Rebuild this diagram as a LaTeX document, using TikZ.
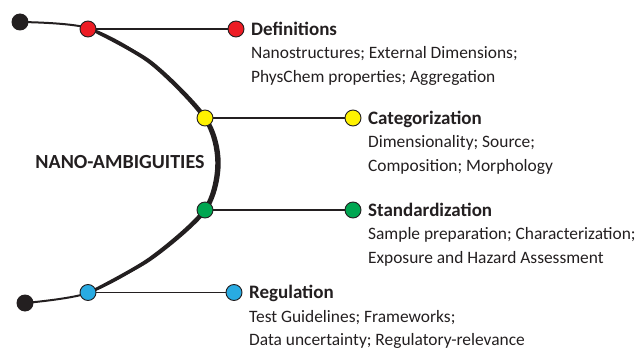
\documentclass[tikz,border=0pt]{standalone}
\usepackage{fontspec}
\setmainfont{Carlito}
\usetikzlibrary{positioning}
\definecolor{ink}{HTML}{231F20}
\definecolor{defred}{HTML}{ED1C24}
\definecolor{catyellow}{HTML}{FFF200}
\definecolor{stdgreen}{HTML}{00A651}
\definecolor{regblue}{HTML}{29ABE2}
\tikzset{
	dot/.style={circle, draw=ink, line width=0.9pt, minimum size=16pt, inner sep=0pt},
	enddot/.style={circle, fill=ink, minimum size=17pt, inner sep=0pt},
	branch/.style={draw=ink, line width=1.8pt},
	heading/.style={anchor=base west, inner sep=0pt, text=ink, font=\fontsize{19}{22}\selectfont\bfseries},
	detail/.style={inner sep=0pt, text=ink, font=\fontsize{17.4}{20}\selectfont},
}
\newcommand{\Branch}[8]{
	\node[dot, fill=#2] (#1a) at (#3,#5) {};
	\node[dot, fill=#2] (#1b) at (#4,#5) {};
	\draw[branch] (#1a) -- (#1b);
	\node[heading, xshift=6.5pt, yshift=-6.2pt] (#1t) at (#1b.east) {#6};
	\node[detail, below=23.6pt of #1t.base west, anchor=base west] (#1x) {#7};
	\node[detail, below=23.6pt of #1x.base west, anchor=base west] (#1y) {#8};
}

\begin{document}
\begin{tikzpicture}[x=1pt, y=-1pt]
		\useasboundingbox (0,0) rectangle (643,350);
		\draw[ink, line width=2pt] plot[smooth] coordinates {(20,22) (88,28) (150,62) (205,118) (218,163) (205,210) (150,259) (88,293) (25,303)};
		\fill[ink] plot[smooth] coordinates {(88.4,26.8) (151.2,60.4) (207.3,117.1) (220.7,163) (207.3,210.9) (151.2,260.6) (88.2,294.2)}
			-- plot[smooth] coordinates {(87.8,291.8) (148.8,257.4) (202.7,209.1) (215.3,163) (202.7,118.9) (148.8,63.6) (87.6,29.2)} -- cycle;
		\node[enddot] (top) at (20,22) {};
		\node[enddot] (bottom) at (25,303) {};
		\node[anchor=base, inner sep=0pt, text=ink, font=\fontsize{20}{24}\selectfont\bfseries] (nano) at (120,168) {NANO-AMBIGUITIES};
		\Branch{def}{defred}{88}{236}{29}{Definitions}{Nanostructures; External Dimensions;}{PhysChem properties; Aggregation}
		\Branch{cat}{catyellow}{205}{353}{118}{Categorization}{Dimensionality; Source;}{Composition; Morphology}
		\Branch{std}{stdgreen}{205}{353}{210}{Standardization}{Sample preparation; Characterization;}{Exposure and Hazard Assessment}
		\Branch{reg}{regblue}{88}{234}{292.5}{Regulation}{Test Guidelines; Frameworks;}{Data uncertainty; Regulatory-relevance}
	\end{tikzpicture}
\end{document}
